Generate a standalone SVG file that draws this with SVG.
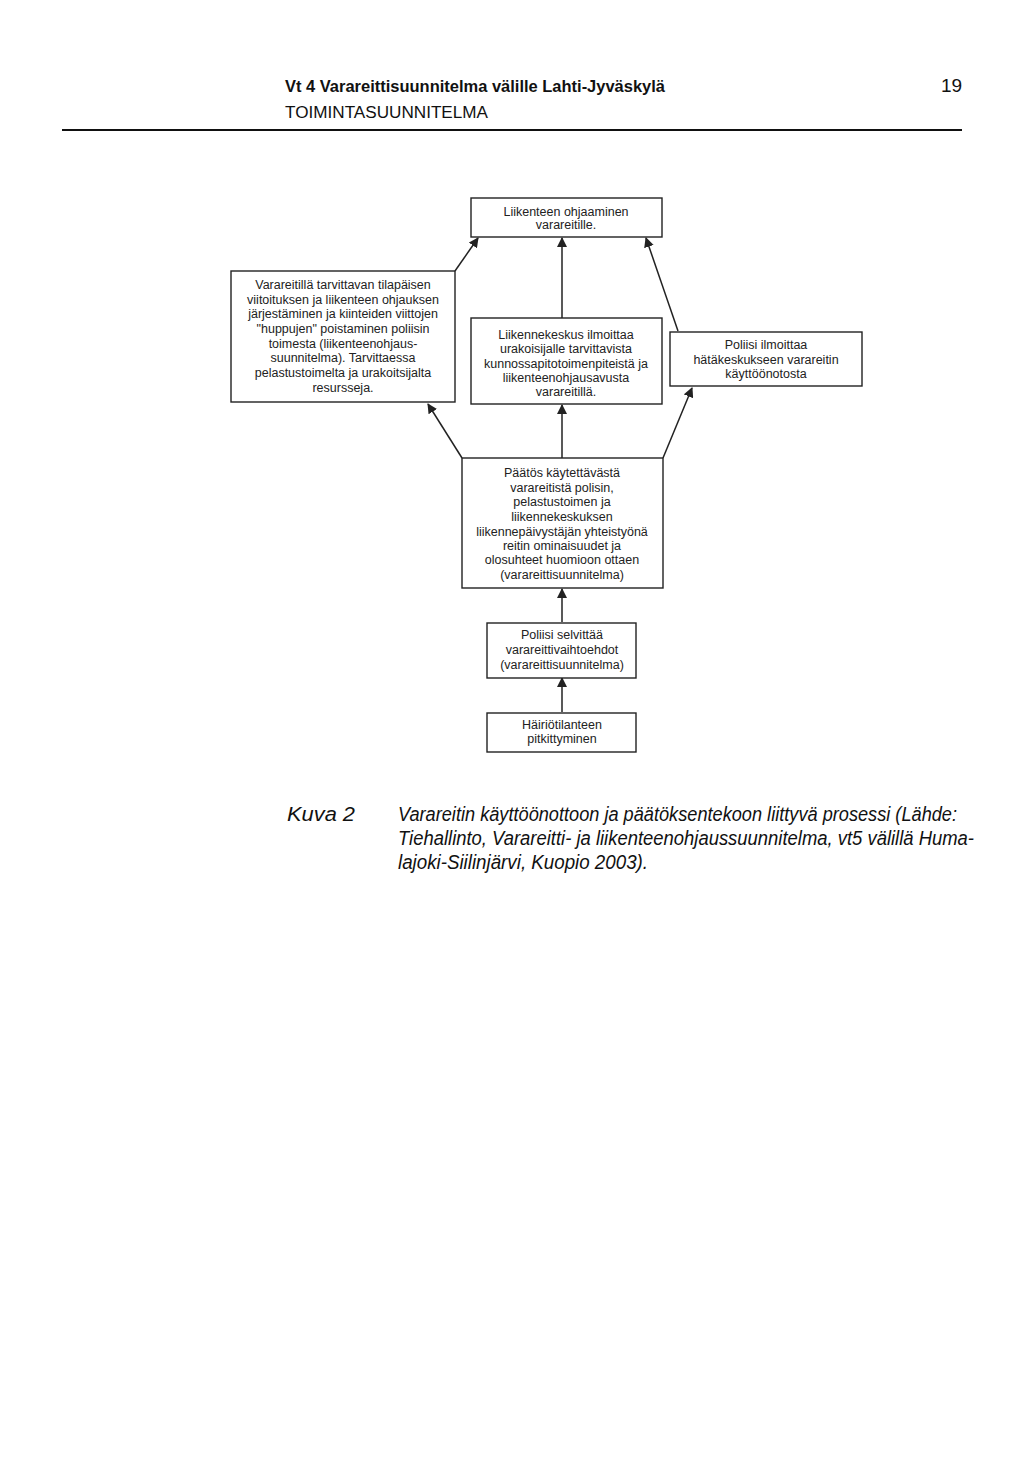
<svg xmlns="http://www.w3.org/2000/svg" width="1024" height="1476" viewBox="0 0 1024 1476">
<defs>
<marker id="ah" viewBox="0 0 10 10" refX="9" refY="5" markerWidth="10" markerHeight="10" markerUnits="userSpaceOnUse" orient="auto">
<path d="M0,0 L10,5 L0,10 z" fill="#222"/>
</marker>
<style>
.box{fill:#fff;stroke:#222;stroke-width:1.4}
.t{font-family:"Liberation Sans",Arial,sans-serif;font-size:12.5px;fill:#222;text-anchor:middle}
.c{stroke:#222;stroke-width:1.5;fill:none;marker-end:url(#ah)}
.h{font-family:"Liberation Sans",Arial,sans-serif;fill:#111}
.cap{font-family:"Liberation Sans",Arial,sans-serif;font-style:italic;font-size:20px;fill:#111}
</style>
</defs>
<rect width="1024" height="1476" fill="#fff"/>
<g id="header">
<text class="h" x="285" y="92" font-size="16" font-weight="bold" textLength="380" lengthAdjust="spacingAndGlyphs">Vt 4 Varareittisuunnitelma välille Lahti-Jyväskylä</text>
<text class="h" x="941" y="92" font-size="19">19</text>
<text class="h" x="285" y="118" font-size="16" textLength="203" lengthAdjust="spacingAndGlyphs">TOIMINTASUUNNITELMA</text>
<line x1="62" y1="130" x2="962" y2="130" stroke="#111" stroke-width="2"/>
</g>
<g id="connectors">
<path class="c" d="M455,271 L478,238"/>
<path class="c" d="M562,318 L562,238"/>
<path class="c" d="M678,331 L646,238"/>
<path class="c" d="M462,458 L428,404"/>
<path class="c" d="M562,458 L562,405"/>
<path class="c" d="M663,458 L692,388"/>
<path class="c" d="M562,622 L562,589"/>
<path class="c" d="M562,712 L562,678"/>
</g>
<g id="n-top">
<rect class="box" x="471" y="198" width="191" height="39"/>
<text class="t" x="566" y="216">Liikenteen ohjaaminen</text>
<text class="t" x="566" y="229">varareitille.</text>
</g>
<g id="n-left">
<rect class="box" x="231" y="271" width="224" height="131"/>
<text class="t" x="343" y="289">Varareitillä tarvittavan tilapäisen</text>
<text class="t" x="343" y="303.5">viitoituksen ja liikenteen ohjauksen</text>
<text class="t" x="343" y="318">järjestäminen ja kiinteiden viittojen</text>
<text class="t" x="343" y="333">"huppujen" poistaminen poliisin</text>
<text class="t" x="343" y="347.5">toimesta (liikenteenohjaus-</text>
<text class="t" x="343" y="362">suunnitelma). Tarvittaessa</text>
<text class="t" x="343" y="377">pelastustoimelta ja urakoitsijalta</text>
<text class="t" x="343" y="392">resursseja.</text>
</g>
<g id="n-mid">
<rect class="box" x="471" y="318" width="191" height="86"/>
<text class="t" x="566" y="339">Liikennekeskus ilmoittaa</text>
<text class="t" x="566" y="353">urakoisijalle tarvittavista</text>
<text class="t" x="566" y="367.5">kunnossapitotoimenpiteistä ja</text>
<text class="t" x="566" y="382">liikenteenohjausavusta</text>
<text class="t" x="566" y="396">varareitillä.</text>
</g>
<g id="n-right">
<rect class="box" x="670" y="332" width="192" height="54"/>
<text class="t" x="766" y="349">Poliisi ilmoittaa</text>
<text class="t" x="766" y="364">hätäkeskukseen varareitin</text>
<text class="t" x="766" y="378">käyttöönotosta</text>
</g>
<g id="n-decision">
<rect class="box" x="462" y="458" width="201" height="130"/>
<text class="t" x="562" y="477">Päätös käytettävästä</text>
<text class="t" x="562" y="492">varareitistä polisin,</text>
<text class="t" x="562" y="506">pelastustoimen ja</text>
<text class="t" x="562" y="521">liikennekeskuksen</text>
<text class="t" x="562" y="536">liikennepäivystäjän yhteistyönä</text>
<text class="t" x="562" y="550">reitin ominaisuudet ja</text>
<text class="t" x="562" y="564">olosuhteet huomioon ottaen</text>
<text class="t" x="562" y="579">(varareittisuunnitelma)</text>
</g>
<g id="n-poliisi">
<rect class="box" x="487" y="623" width="149" height="55"/>
<text class="t" x="562" y="639">Poliisi selvittää</text>
<text class="t" x="562" y="654">varareittivaihtoehdot</text>
<text class="t" x="562" y="669">(varareittisuunnitelma)</text>
</g>
<g id="n-hairio">
<rect class="box" x="487" y="713" width="149" height="39"/>
<text class="t" x="562" y="729">Häiriötilanteen</text>
<text class="t" x="562" y="743">pitkittyminen</text>
</g>
<g id="caption">
<text class="cap" x="287" y="821" textLength="68" lengthAdjust="spacingAndGlyphs">Kuva 2</text>
<text class="cap" x="398" y="821" textLength="559" lengthAdjust="spacingAndGlyphs">Varareitin käyttöönottoon ja päätöksentekoon liittyvä prosessi (Lähde:</text>
<text class="cap" x="398" y="845" textLength="576" lengthAdjust="spacingAndGlyphs">Tiehallinto, Varareitti- ja liikenteenohjaussuunnitelma, vt5 välillä Huma-</text>
<text class="cap" x="398" y="869" textLength="250" lengthAdjust="spacingAndGlyphs">lajoki-Siilinjärvi, Kuopio 2003).</text>
</g>
</svg>
